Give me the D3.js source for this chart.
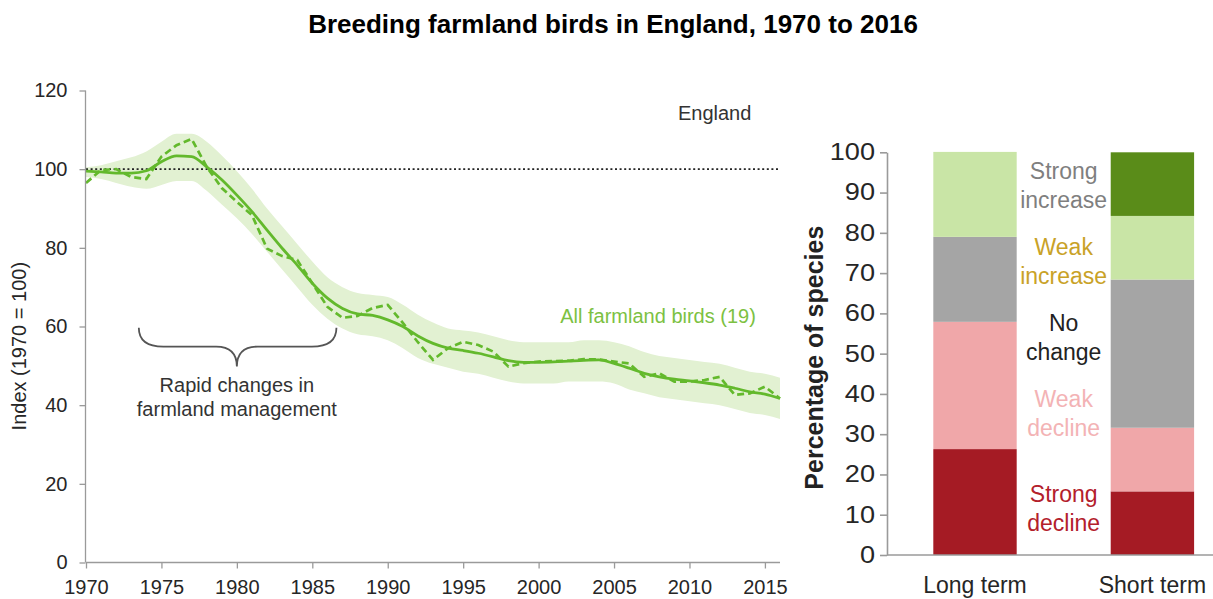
<!DOCTYPE html>
<html>
<head>
<meta charset="utf-8">
<script src="https://cdn.jsdelivr.net/npm/d3@7/dist/d3.min.js"></script>
<style>
  html, body { margin: 0; padding: 0; background: #fff; }
  svg { display: block; font-family: "Liberation Sans", Arial, sans-serif; }
</style>
</head>
<body>
<svg id="chart" width="1213" height="599"></svg>
<script>
// ---------- DATA ----------
const years = [1970,1971,1972,1973,1974,1975,1976,1977,1978,1979,
               1980,1981,1982,1983,1984,1985,1986,1987,1988,1989,
               1990,1991,1992,1993,1994,1995,1996,1997,1998,1999,
               2000,2001,2002,2003,2004,2005,2006,2007,2008,2009,
               2010,2011,2012,2013,2014,2015,2016];

const smoothedIndex = [99.5,99.3,99.0,99.0,99.6,101.9,103.4,103.2,100.6,97.3,
                       93.4,89.2,84.5,79.9,75.6,71.0,67.2,64.6,63.2,62.8,
                       61.7,60.0,57.6,55.7,54.5,53.9,53.2,52.3,51.3,50.9,
                       50.9,51.0,51.2,51.4,51.5,50.6,49.4,48.1,47.2,46.6,
                       46.2,45.7,45.1,44.3,43.4,42.8,41.7];

const unsmoothedIndex = [96.5,99.8,100.0,98.0,97.5,103.2,106.1,107.7,100.6,95.2,
                         91.7,88.3,79.8,77.9,76.9,71.0,65.0,62.2,62.7,64.7,
                         65.5,60.9,56.0,51.5,54.5,56.1,55.3,53.6,49.8,50.7,
                         51.1,51.2,51.3,51.7,51.6,51.1,50.6,47.2,48.1,46.0,
                         46.0,46.4,47.2,42.6,43.0,44.7,41.7];

const upperCI = [100.5,101.0,102.0,103.0,104.5,107.0,109.0,109.0,107.0,103.5,
                 99.5,95.0,90.0,85.5,81.0,76.5,72.5,70.0,68.5,68.0,
                 67.5,65.5,63.0,61.0,59.5,59.0,58.5,57.5,56.5,56.0,
                 56.0,56.0,56.0,56.5,56.5,56.0,55.0,53.5,52.5,52.0,
                 51.5,51.0,50.5,49.5,48.5,48.0,47.0];

const lowerCI = [98.0,97.5,96.5,95.5,95.0,96.0,97.0,97.0,94.5,91.0,
                 87.5,83.5,79.0,74.5,70.0,65.5,62.0,59.5,58.0,57.5,
                 56.5,54.5,52.0,50.5,49.5,48.5,48.0,47.0,46.0,45.5,
                 45.5,45.5,46.0,46.0,46.0,45.5,44.0,43.0,42.0,41.5,
                 41.0,40.5,40.0,39.0,38.0,37.5,36.5];

const leftYTicks = [0,20,40,60,80,100,120];
const leftXTicks = [1970,1975,1980,1985,1990,1995,2000,2005,2010,2015];
const baselineValue = 100;

// stacked bar: percentage of species (19 species)
const trendPeriods = ["Long term","Short term"];
const trendCategories = ["Strong decline","Weak decline","No change","Weak increase","Strong increase"];
const longTermPct  = [26.3, 31.6, 21.1, 21.1, 0.0];
const shortTermPct = [15.8, 15.8, 36.8, 15.8, 15.8];
const rightYTicks = [0,10,20,30,40,50,60,70,80,90,100];

// ---------- STYLE / LAYOUT ----------
const catColors = {
  "Strong decline": "#a51b24",
  "Weak decline": "#f0a7a9",
  "No change": "#a5a5a5",
  "Weak increase": "#c9e5a6",
  "Strong increase": "#5a8c19"
};
const catLabelColors = {
  "Strong decline": "#b3202b",
  "Weak decline": "#f3b3b5",
  "No change": "#222222",
  "Weak increase": "#c9a227",
  "Strong increase": "#7f7f7f"
};
const lineGreen = "#63b92c";
const textGreen = "#7cc142";
const bandGreen = "#e2f1d2";
const axisGrey = "#9a9a9a";
const tickText = "#262626";

const svg = d3.select("#chart");

// Title
svg.append("text")
  .attr("x", 613).attr("y", 33)
  .attr("text-anchor", "middle")
  .style("font-weight", "bold").style("font-size", "26px").style("fill", "#000")
  .text("Breeding farmland birds in England, 1970 to 2016");

// ---------- LEFT CHART ----------
const x = d3.scaleLinear().domain([1970, 2016]).range([86, 780]);
const y = d3.scaleLinear().domain([0, 120]).range([562.5, 90.5]);

const rows = years.map((yr, i) => ({
  year: yr, s: smoothedIndex[i], u: unsmoothedIndex[i], hi: upperCI[i], lo: lowerCI[i]
}));

// confidence band
svg.append("path")
  .datum(rows)
  .attr("fill", bandGreen)
  .attr("d", d3.area().curve(d3.curveMonotoneX)
    .x(d => x(d.year)).y0(d => y(d.lo)).y1(d => y(d.hi)));

// baseline dotted
svg.append("line")
  .attr("x1", x(1970)).attr("x2", x(2016))
  .attr("y1", y(baselineValue)).attr("y2", y(baselineValue))
  .attr("stroke", "#222").attr("stroke-width", 1.6)
  .attr("stroke-dasharray", "2,2.6");

// unsmoothed dashed
svg.append("path")
  .datum(rows)
  .attr("fill", "none").attr("stroke", lineGreen)
  .attr("stroke-width", 2.7).attr("stroke-dasharray", "7,4")
  .attr("d", d3.line().x(d => x(d.year)).y(d => y(d.u)));

// smoothed solid
svg.append("path")
  .datum(rows)
  .attr("fill", "none").attr("stroke", lineGreen)
  .attr("stroke-width", 2.8)
  .attr("d", d3.line().curve(d3.curveMonotoneX).x(d => x(d.year)).y(d => y(d.s)));

// axes
const yAxisL = svg.append("g").attr("transform", "translate(85.5,0)")
  .call(d3.axisLeft(y).tickValues(leftYTicks).tickSize(6).tickPadding(12).tickSizeOuter(0));
const xAxisL = svg.append("g").attr("transform", "translate(0,562.5)")
  .call(d3.axisBottom(x).tickValues(leftXTicks).tickFormat(d3.format("d"))
        .tickSize(6).tickPadding(11).tickSizeOuter(0));
[yAxisL, xAxisL].forEach(g => {
  g.selectAll("path,line").attr("stroke", axisGrey).attr("stroke-width", 1.3);
  g.selectAll("text").style("font-size", "20px").style("fill", tickText)
    .style("font-family", "'Liberation Sans', Arial, sans-serif");
});
yAxisL.select(".domain").attr("d", `M0,${y(0)}V${y(120)}`);
xAxisL.select(".domain").attr("d", `M${x(1970)},0H${x(2016)}`);

// y label
svg.append("text")
  .attr("transform", `translate(26,${y(55)}) rotate(-90)`)
  .attr("text-anchor", "middle")
  .style("font-size", "20px").style("fill", tickText)
  .text("Index (1970 = 100)");

// annotations
svg.append("text")
  .attr("x", x(2014.1)).attr("y", y(112.5))
  .attr("text-anchor", "end")
  .style("font-size", "20px").style("fill", "#333")
  .text("England");

svg.append("text")
  .attr("x", x(2014.4)).attr("y", y(60.9))
  .attr("text-anchor", "end")
  .style("font-size", "20px").style("fill", textGreen)
  .text("All farmland birds (19)");

// curly brace
const bx0 = x(1973.5), bx1 = x(1986.6), bxm = x(1980.0);
const byTop = y(59.7), byMid = y(54.9), byTip = y(49.8);
const r = byMid - byTop;
const brace = d3.path();
brace.moveTo(bx0, byTop);
brace.quadraticCurveTo(bx0, byMid, bx0 + r * 1.3, byMid);
brace.lineTo(bxm - r * 1.1, byMid);
brace.quadraticCurveTo(bxm, byMid, bxm, byTip);
brace.quadraticCurveTo(bxm, byMid, bxm + r * 1.1, byMid);
brace.lineTo(bx1 - r * 1.3, byMid);
brace.quadraticCurveTo(bx1, byMid, bx1, byTop);
svg.append("path").attr("d", brace.toString())
  .attr("fill", "none").attr("stroke", "#555").attr("stroke-width", 1.8);

svg.append("text")
  .attr("x", bxm).attr("y", y(43.4))
  .attr("text-anchor", "middle")
  .style("font-size", "20px").style("fill", "#333")
  .text("Rapid changes in");
svg.append("text")
  .attr("x", bxm).attr("y", y(37.3))
  .attr("text-anchor", "middle")
  .style("font-size", "20px").style("fill", "#333")
  .text("farmland management");

// ---------- RIGHT CHART ----------
const yR = d3.scaleLinear().domain([0, 100]).range([555, 152.3]);
const xR = d3.scaleBand().domain(trendPeriods).range([887, 1240.4])
  .paddingInner(0.53).paddingOuter(0.261);

const barTable = [longTermPct, shortTermPct].map((vals, i) => {
  const o = { period: trendPeriods[i] };
  trendCategories.forEach((c, j) => o[c] = vals[j]);
  return o;
});
const stacked = d3.stack().keys(trendCategories)(barTable);

svg.append("g").selectAll("g").data(stacked).join("g")
  .attr("fill", d => catColors[d.key])
  .selectAll("rect").data(d => d).join("rect")
  .attr("x", d => xR(d.data.period))
  .attr("width", xR.bandwidth())
  .attr("y", d => yR(d[1]))
  .attr("height", d => yR(d[0]) - yR(d[1]));

const yAxisR = svg.append("g").attr("transform", "translate(887,0)")
  .call(d3.axisLeft(yR).tickValues(rightYTicks).tickSize(7).tickPadding(5).tickSizeOuter(0));
yAxisR.selectAll("path,line").attr("stroke", axisGrey).attr("stroke-width", 1.6);
yAxisR.selectAll("text").style("font-size", "23px").style("fill", tickText)
  .style("font-family", "'Liberation Sans', Arial, sans-serif")
  .attr("x", -12 / 1.18).attr("transform", "scale(1.18,1)");

const xAxisR = svg.append("g").attr("transform", "translate(0,555)")
  .call(d3.axisBottom(xR).tickSize(0).tickPadding(22));
xAxisR.select(".domain").attr("d", "M887,0H1213").attr("stroke", axisGrey).attr("stroke-width", 1.6);
xAxisR.selectAll("text").style("font-size", "23px").style("fill", tickText)
  .style("font-family", "'Liberation Sans', Arial, sans-serif");

svg.append("text")
  .attr("transform", `translate(823,${yR(49)}) rotate(-90)`)
  .attr("text-anchor", "middle")
  .style("font-size", "25px").style("font-weight", "bold").style("fill", "#222")
  .text("Percentage of species");

// category labels between bars
const labelLines = [
  { cat: "Strong increase", lines: ["Strong", "increase"], at: [93.4, 86.2] },
  { cat: "Weak increase",   lines: ["Weak", "increase"],   at: [74.5, 67.3] },
  { cat: "No change",       lines: ["No", "change"],       at: [55.6, 48.4] },
  { cat: "Weak decline",    lines: ["Weak", "decline"],    at: [36.8, 29.6] },
  { cat: "Strong decline",  lines: ["Strong", "decline"],  at: [13.2, 6.0] }
];
const labelX = (xR("Long term") + xR.bandwidth() + xR("Short term")) / 2;
labelLines.forEach(l => {
  l.lines.forEach((t, k) => {
    svg.append("text")
      .attr("x", labelX).attr("y", yR(l.at[k]))
      .attr("text-anchor", "middle")
      .style("font-size", "23px").style("fill", catLabelColors[l.cat])
      .text(t);
  });
});
</script>
</body>
</html>
